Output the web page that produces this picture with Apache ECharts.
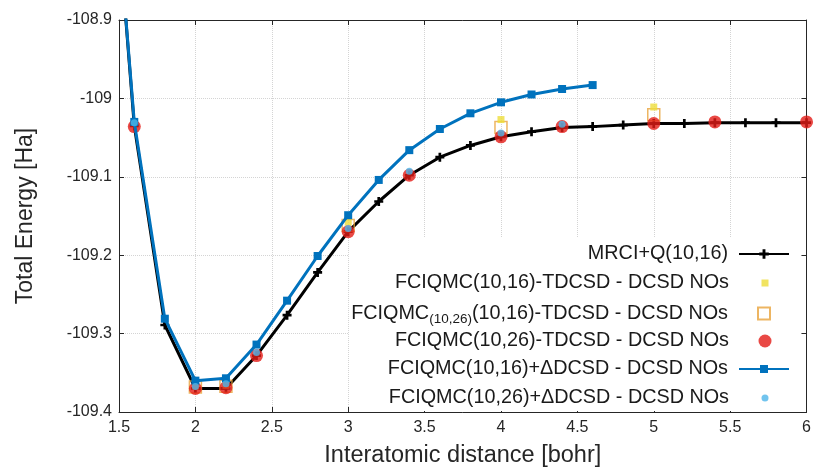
<!DOCTYPE html>
<html><head><meta charset="utf-8">
<script src="https://cdn.jsdelivr.net/npm/echarts@6/dist/echarts.min.js"></script>
<style>html,body{margin:0;padding:0;background:#fff}#c{width:814px;height:473px}</style>
</head><body><div id="c"></div>
<script>
// ---- data ----
const xMRCI = [1.5,1.6,1.8,2.0,2.2,2.4,2.6,2.8,3.0,3.2,3.4,3.6,3.8,4.0,4.2,4.4,4.6,4.8,5.0,5.2,5.4,5.6,5.8,6.0];
const yMRCI = [-108.79,-109.035,-109.289,-109.370,-109.370,-109.328,-109.2765,-109.222,-109.170,-109.1315,-109.098,-109.075,-109.060,-109.049,-109.0425,-109.037,-109.036,-109.034,-109.032,-109.032,-109.031,-109.031,-109.031,-109.031];

const xTD16 = [2.0,2.2,3.0,4.0,5.0];
const yTD16 = [-109.367,-109.366,-109.158,-109.027,-109.011];

const xTD2616 = [2.0,2.2,3.0,4.0,5.0];
const yTD2616 = [-109.368,-109.367,-109.162,-109.037,-109.021];

const xTD26 = [1.6,2.0,2.2,2.4,3.0,3.4,4.0,4.4,5.0,5.4,6.0];
const yTD26 = [-109.036,-109.370,-109.369,-109.328,-109.170,-109.098,-109.049,-109.036,-109.032,-109.030,-109.030];

const xD16 = [1.5,1.6,1.8,2.0,2.2,2.4,2.6,2.8,3.0,3.2,3.4,3.6,3.8,4.0,4.2,4.4,4.6];
const yD16 = [-108.79,-109.030,-109.281,-109.360,-109.357,-109.314,-109.258,-109.201,-109.149,-109.104,-109.066,-109.039,-109.019,-109.005,-108.995,-108.988,-108.983];

const xD26 = [1.6,2.0,2.2,2.4,3.0,3.4,4.0,4.4];
const yD26 = [-109.031,-109.3675,-109.364,-109.324,-109.166,-109.093,-109.044,-109.033];

const names = [
  'MRCI+Q(10,16)',
  'FCIQMC(10,16)-TDCSD - DCSD NOs',
  'FCIQMC(10,26)(10,16)-TDCSD - DCSD NOs',
  'FCIQMC(10,26)-TDCSD - DCSD NOs',
  'FCIQMC(10,16)+ΔDCSD - DCSD NOs',
  'FCIQMC(10,26)+ΔDCSD - DCSD NOs'
];
const xTicks = {min:1.5, max:6, interval:0.5};
const yTicks = {min:-109.4, max:-108.9, interval:0.1};

// ---- chart ----
const zip = (xs, ys) => xs.map((x, i) => [x, ys[i]]);
const FONT = 'Liberation Sans, Arial, Helvetica, sans-serif';
const AX = '#262626';
const plus = 'path://M-1.5,-5H1.5V-1.5H5V1.5H1.5V5H-1.5V1.5H-5V-1.5H-1.5Z';
const SQ = 'path://M0,0H10V10H0Z';
const CIRC = 'path://M10,5A5,5,0,1,1,0,5A5,5,0,1,1,10,5Z';

const rowCenters = [254, 283, 312, 341, 369, 398];
const iconH = [12, 7, 12, 13, 10, 7];
const icons = [null, SQ, SQ, CIRC, null, CIRC];
const LF = 19.8;
const legends = names.map((n, i) => {
  const l = {
    data: [icons[i] ? {name: n, icon: icons[i]} : n],
    orient: 'horizontal',
    align: 'right',
    right: icons[i] ? 49 - iconH[i] / 2 : 24,
    top: rowCenters[i] - 11,
    itemWidth: 50,
    itemHeight: iconH[i],
    padding: 0,
    symbolKeepAspect: true,
    selectedMode: false,
    textStyle: {
      fontFamily: FONT, fontSize: LF, color: '#1a1a1a', lineHeight: 22,
      padding: [0, 6, 0, 0],
      rich: {
        a: {fontFamily: FONT, fontSize: LF, color: '#1a1a1a', lineHeight: 22},
        s: {fontFamily: FONT, fontSize: 13.5, color: '#1a1a1a', lineHeight: 22, padding: [11, 0, 0, 0]}
      }
    }
  };
  if (i === 2) l.formatter = '{a|FCIQMC}{s|(10,26)}{a|(10,16)-TDCSD - DCSD NOs}';
  return l;
});

const option = {
  backgroundColor: '#fff',
  animation: false,
  grid: {left: 119, right: 7, top: 20, bottom: 55},
  legend: legends,
  graphic: [{
    type: 'rect', z: 1, silent: true,
    shape: {x: 349, y: 238, width: 451, height: 173},
    style: {fill: '#fff'}
  }],
  xAxis: [{
    type: 'value', min: xTicks.min, max: xTicks.max, interval: xTicks.interval,
    name: 'Interatomic distance [bohr]', nameLocation: 'middle', nameGap: 32,
    nameTextStyle: {fontFamily: FONT, fontSize: 23.5, color: AX},
    axisLine: {show: true, lineStyle: {color: AX, width: 1}},
    axisTick: {show: true, inside: true, length: 5, lineStyle: {color: AX}},
    axisLabel: {fontFamily: FONT, fontSize: 16, color: AX, margin: 8, formatter: v => String(parseFloat(v.toFixed(1)))},
    splitLine: {show: true, lineStyle: {color: '#d4d4d4', type: 'dotted', width: 1}}
  }, {
    type: 'value', position: 'top', min: xTicks.min, max: xTicks.max, interval: xTicks.interval,
    axisLine: {show: true, lineStyle: {color: AX, width: 1}},
    axisTick: {show: true, inside: true, length: 5, lineStyle: {color: AX}},
    axisLabel: {show: false}, splitLine: {show: false}
  }],
  yAxis: [{
    type: 'value', min: yTicks.min, max: yTicks.max, interval: yTicks.interval,
    name: 'Total Energy [Ha]', nameLocation: 'middle', nameGap: 82, nameRotate: 90,
    nameTextStyle: {fontFamily: FONT, fontSize: 23, color: AX},
    axisLine: {show: true, lineStyle: {color: AX, width: 1}},
    axisTick: {show: true, inside: true, length: 5, lineStyle: {color: AX}},
    axisLabel: {fontFamily: FONT, fontSize: 16, color: AX, margin: 7, formatter: v => String(parseFloat(v.toFixed(1)))},
    splitLine: {show: true, lineStyle: {color: '#d4d4d4', type: 'dotted', width: 1}}
  }, {
    type: 'value', position: 'right', min: yTicks.min, max: yTicks.max, interval: yTicks.interval,
    axisLine: {show: true, lineStyle: {color: AX, width: 1}},
    axisTick: {show: true, inside: true, length: 5, lineStyle: {color: AX}},
    axisLabel: {show: false}, splitLine: {show: false}
  }],
  series: [
    {name: names[0], type: 'line', data: zip(xMRCI, yMRCI), symbol: plus, symbolSize: 9, showSymbol: true,
     lineStyle: {color: '#000', width: 3}, itemStyle: {color: '#000'}, z: 2},
    {name: names[2], type: 'scatter', data: zip(xTD2616, yTD2616), symbol: 'rect', symbolSize: 12, clip: false,
     itemStyle: {color: 'rgba(255,255,255,0)', borderColor: '#E9A23B', borderWidth: 1.5}, z: 3},
    {name: names[1], type: 'scatter', data: zip(xTD16, yTD16), symbol: 'rect', symbolSize: 7, clip: false,
     itemStyle: {color: '#EEDD3A'}, z: 4},
    {name: names[3], type: 'scatter', data: zip(xTD26, yTD26), symbol: 'circle', symbolSize: 13, clip: false,
     itemStyle: {color: '#E41C16'}, z: 5},
    {name: names[4], type: 'line', data: zip(xD16, yD16), symbol: 'rect', symbolSize: 8, showSymbol: true,
     lineStyle: {color: '#0072BD', width: 3}, itemStyle: {color: '#0072BD'}, z: 6},
    {name: names[5], type: 'scatter', data: zip(xD26, yD26), symbol: 'circle', symbolSize: 7, clip: false,
     itemStyle: {color: '#4DB5EA'}, z: 7}
  ]
};
const chart = echarts.init(document.getElementById('c'), null, {renderer: 'canvas'});
chart.setOption(option);
</script></body></html>
